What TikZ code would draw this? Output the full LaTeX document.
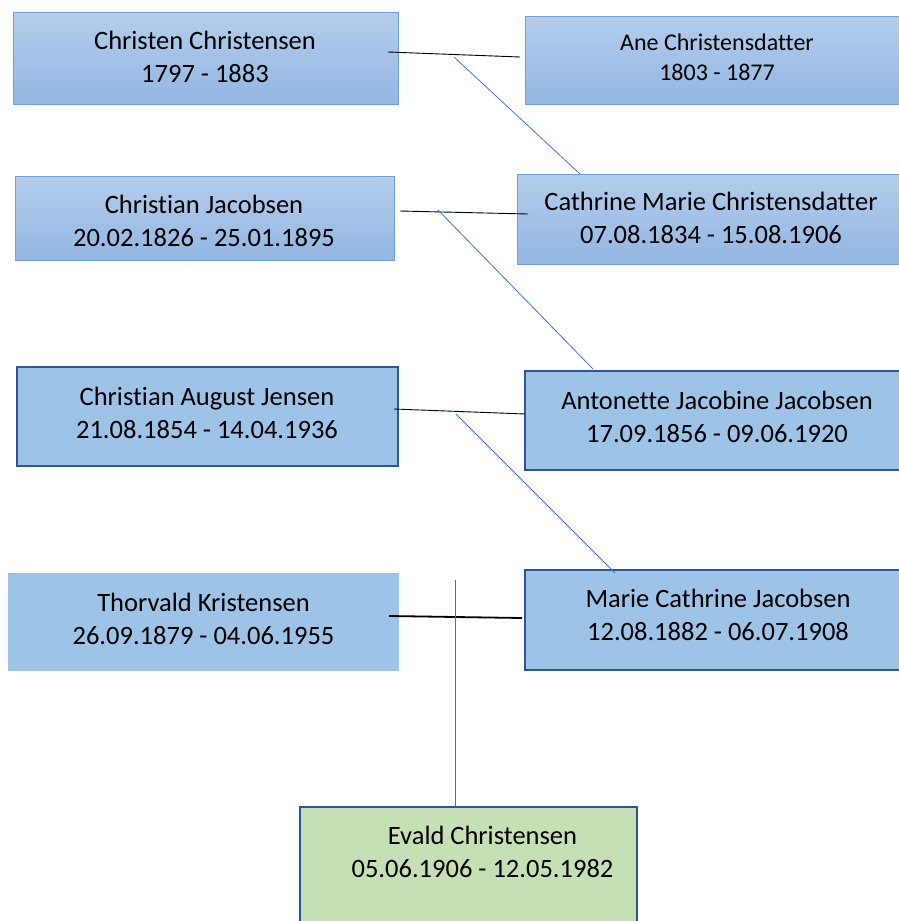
\documentclass[tikz,border=0pt]{standalone}
\usepackage{fontspec}
\setmainfont{Carlito}[Ligatures=NoCommon]
\definecolor{gtop}{HTML}{B4CDEB}
\definecolor{gbot}{HTML}{92B7E2}
\definecolor{gborder}{HTML}{6FA0DC}
\definecolor{flat}{HTML}{9DC3E6}
\definecolor{dkblue}{HTML}{2F5597}
\definecolor{green}{HTML}{C5E0B4}
\definecolor{lnblue}{HTML}{4472C4}
\tikzset{
  gbox/.style={draw=gborder, line width=0.8pt, top color=gtop, bottom color=gbot, inner sep=0pt},
  fbox/.style={draw=dkblue, line width=2pt, fill=flat, inner sep=0pt},
  nbox/.style={fill=flat, inner sep=0pt},
  ebox/.style={draw=dkblue, line width=2pt, fill=green, inner sep=0pt},
  txt/.style={align=center, inner sep=0pt, font=\fontsize{26.5}{33}\selectfont},
  stxt/.style={align=center, inner sep=0pt, font=\fontsize{24}{30}\selectfont},
  marr/.style={black, line width=0.9pt},
  marrb/.style={black, line width=1.8pt},
  desc/.style={lnblue, line width=0.8pt}
}
\begin{document}
\begin{tikzpicture}[x=1pt,y=-1pt]
\useasboundingbox (0,0) rectangle (899,921);
\clip (0,0) rectangle (899,921);
% boxes
\node[gbox, minimum width=385pt, minimum height=92pt] (b1) at (205.5,58) {};
\node[gbox, minimum width=390pt, minimum height=88pt] (b2) at (720,60) {};
\node[gbox, minimum width=379pt, minimum height=84pt] (b3) at (204.5,218) {};
\node[gbox, minimum width=398pt, minimum height=90pt] (b4) at (716,219) {};
\node[fbox, minimum width=381pt, minimum height=99pt] (b5) at (207.5,416.5) {};
\node[fbox, minimum width=390pt, minimum height=99pt] (b6) at (720,420.5) {};
\node[nbox, minimum width=391pt, minimum height=98pt] (b7) at (203.5,622) {};
\node[fbox, minimum width=390pt, minimum height=100pt] (b8) at (720,620) {};
\node[ebox, minimum width=337pt, minimum height=133pt] (b9) at (468.5,873.5) {};
% texts
\node[txt] (t1) at (205,57) {Christen Christensen\\1797 - 1883};
\node[stxt] (t2) at (717,57) {Ane Christensdatter\\1803 - 1877};
\node[txt] (t3) at (204,221) {Christian Jacobsen\\20.02.1826 - 25.01.1895};
\node[txt] (t4) at (711,218) {Cathrine Marie Christensdatter\\07.08.1834 - 15.08.1906};
\node[txt] (t5) at (207,413) {Christian August Jensen\\21.08.1854 - 14.04.1936};
\node[txt] (t6) at (717,417) {Antonette Jacobine Jacobsen\\17.09.1856 - 09.06.1920};
\node[txt] (t7) at (203.5,619) {Thorvald Kristensen\\26.09.1879 - 04.06.1955};
\node[txt] (t8) at (718,615) {Marie Cathrine Jacobsen\\12.08.1882 - 06.07.1908};
\node[txt] (t9) at (482.5,852) {Evald Christensen\\05.06.1906 - 12.05.1982};
% connector end points
\coordinate (m1a) at (388,52);  \coordinate (m1b) at (520,57);
\coordinate (d1a) at (454,57);  \coordinate (d1b) at (580,174);
\coordinate (m2a) at (400,211); \coordinate (m2b) at (528,214);
\coordinate (d2a) at (438,210); \coordinate (d2b) at (593,369);
\coordinate (m3a) at (394,409); \coordinate (m3b) at (525,414);
\coordinate (d3a) at (456,414); \coordinate (d3b) at (615,573);
\coordinate (m4a) at (389,616); \coordinate (m4b) at (522,618);
\coordinate (d4a) at (455,580); \coordinate (d4b) at (455,807);
% connectors
\draw[marr] (m1a) -- (m1b);
\draw[desc] (d1a) -- (d1b);
\draw[marr] (m2a) -- (m2b);
\draw[desc] (d2a) -- (d2b);
\draw[marr] (m3a) -- (m3b);
\draw[desc] (d3a) -- (d3b);
\draw[marrb] (m4a) -- (m4b);
\draw[desc] (d4a) -- (d4b);
\end{tikzpicture}
\end{document}
